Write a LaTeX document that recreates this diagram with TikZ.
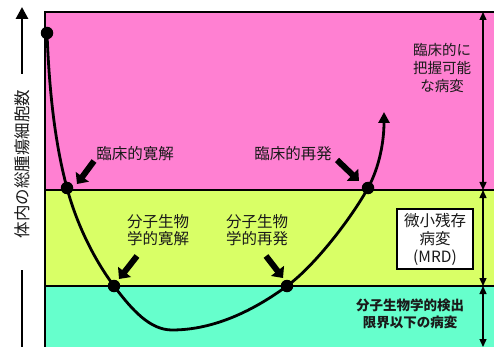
\documentclass[tikz,border=0pt]{standalone}
\usepackage{fontspec}
\setmainfont{Noto Sans CJK JP}
\usetikzlibrary{arrows.meta}
\definecolor{pinkz}{HTML}{FF80D2}
\definecolor{limez}{HTML}{D9FF66}
\definecolor{aquaz}{HTML}{66FFCC}
\definecolor{txt}{HTML}{1A1A1A}
\tikzset{
  lbl/.style={text=txt, font=\fontsize{15.5}{17.5}\selectfont, align=center, inner sep=0pt},
  rlbl/.style={text=txt, font=\fontsize{14.5}{18}\selectfont, align=center, inner sep=0pt},
  fat/.style={line width=6pt, -{Triangle[length=9pt,width=16pt]}},
  dbl/.style={line width=1.4pt, {Triangle[length=8pt,width=7pt]}-{Triangle[length=8pt,width=7pt]}},
  dot/.style={circle, fill=black, minimum size=12.5pt, inner sep=0pt},
}
\begin{document}
\begin{tikzpicture}[x=1pt,y=-1pt]
\useasboundingbox (0,0) rectangle (494,347);
\fill[white] (0,0) rectangle (494,347);
% bands
\fill[pinkz] (45,12) rectangle (494,190);
\fill[limez] (45,190) rectangle (494,286);
\fill[aquaz] (45,286) rectangle (494,347);
\draw[line width=1.8pt] (494,12) -- (45,12) -- (45,347);
\draw[line width=1.8pt] (45,190) -- (494,190);
\draw[line width=1.8pt] (45,286) -- (494,286);
% left axis
\coordinate (ax1) at (22,74);
\coordinate (ax2) at (22,7);
\coordinate (ax3) at (22,270);
\coordinate (ax4) at (22,347);
\draw[line width=2.8pt, -{Triangle[length=12pt,width=12pt]}] (ax1) -- (ax2);
\draw[line width=2.8pt] (ax3) -- (ax4);
\node[text=txt, font=\fontsize{16.5}{18}\selectfont, rotate=90, inner sep=0pt] (axl) at (22,164) {体内の総腫瘍細胞数};
% curve points
\coordinate (c0) at (47,33);
\coordinate (c1) at (67,188);
\coordinate (c2) at (114,286);
\coordinate (pm) at (172,330);
\coordinate (c3) at (287,286);
\coordinate (c4) at (368,188);
\coordinate (pe) at (384,112);
\draw[line width=2.8pt, -{Triangle[length=11pt,width=11pt]}]
  (c0) .. controls (49,85) and (54,140) .. (c1)
  .. controls (76,222) and (93,258) .. (c2)
  .. controls (132,310) and (150,330) .. (pm)
  .. controls (215,330) and (255,309.5) .. (c3)
  .. controls (315,265.5) and (351,218.5) .. (c4)
  .. controls (380,166) and (384,140) .. (pe);
\node[dot] (p0) at (c0) {};
\node[dot] (p1) at (c1) {};
\node[dot] (p2) at (c2) {};
\node[dot] (p3) at (c3) {};
\node[dot] (p4) at (c4) {};
% labels
\node[lbl] (l1) at (135,154) {臨床的寛解};
\node[lbl] (l2) at (293,154) {臨床的再発};
\node[lbl] (l3) at (158,230) {分子生物\\学的寛解};
\node[lbl] (l4) at (257,230) {分子生物\\学的再発};
% fat arrows
\coordinate (a1s) at (94,161);
\coordinate (a1e) at (77,184);
\coordinate (a2s) at (337,160);
\coordinate (a2e) at (359,181);
\coordinate (a3s) at (137,256);
\coordinate (a3e) at (119,279);
\coordinate (a4s) at (266,256);
\coordinate (a4e) at (283,278);
\draw[fat] (a1s) -- (a1e);
\draw[fat] (a2s) -- (a2e);
\draw[fat] (a3s) -- (a3e);
\draw[fat] (a4s) -- (a4e);
% right side
\coordinate (r0) at (483,12);
\coordinate (r1) at (483,190);
\coordinate (r2) at (483,286);
\coordinate (r3) at (483,347);
\draw[dbl] (r0) -- (r1);
\draw[dbl] (r1) -- (r2);
\draw[dbl] (r2) -- (r3);
\node[rlbl] (t1) at (442,68) {臨床的に\\把握可能\\な病変};
\node[rlbl, font=\fontsize{15.5}{18}\selectfont, draw=black, line width=1.8pt, fill=white, minimum width=76pt, minimum height=60pt] (t2) at (435,239) {微小残存\\病変\\(MRD)};
\node[rlbl, font=\bfseries\fontsize{13.5}{17.5}\selectfont] (t3) at (410,314) {分子生物学的検出\\限界以下の病変};
\end{tikzpicture}
\end{document}
